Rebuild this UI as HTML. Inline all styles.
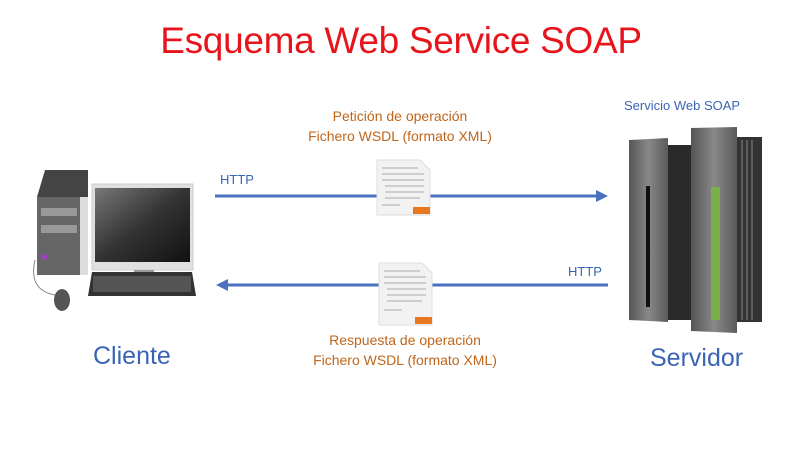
<!DOCTYPE html>
<html><head><meta charset="utf-8"><style>
body{margin:0;width:800px;height:450px;background:#fff;position:relative;overflow:hidden;font-family:"Liberation Sans",sans-serif}
.t{position:absolute;white-space:nowrap}
</style></head><body>
<div class="t" style="left:0;width:802px;text-align:center;top:20px;font-size:37px;color:#e8141b;letter-spacing:-0.3px">Esquema Web Service SOAP</div>
<div class="t" style="left:300px;width:200px;text-align:center;top:106px;font-size:14px;line-height:20px;color:#c0651a">Petición de operación<br>Fichero WSDL (formato XML)</div>
<div class="t" style="left:300px;width:210px;text-align:center;top:330px;font-size:14px;line-height:20px;color:#c0651a">Respuesta de operación<br>Fichero WSDL (formato XML)</div>
<div class="t" style="left:220px;top:172px;font-size:13px;color:#3c64b4">HTTP</div>
<div class="t" style="left:568px;top:264px;font-size:13px;color:#3c64b4">HTTP</div>
<div class="t" style="left:624px;top:98px;font-size:13px;color:#3c64b4">Servicio Web SOAP</div>
<div class="t" style="left:93px;top:342px;font-size:25px;color:#3c64b4">Cliente</div>
<div class="t" style="left:650px;top:344px;font-size:25px;color:#3c64b4">Servidor</div>
<svg width="800" height="450" style="position:absolute;left:0;top:0">
<defs><linearGradient id="scr" x1="0" y1="0" x2="1" y2="1"><stop offset="0" stop-color="#777"/><stop offset="0.5" stop-color="#333"/><stop offset="1" stop-color="#111"/></linearGradient>
<linearGradient id="pan" x1="0" x2="1"><stop offset="0" stop-color="#555"/><stop offset="0.5" stop-color="#888"/><stop offset="1" stop-color="#5a5a5a"/></linearGradient></defs>
<line x1="215" y1="196" x2="598" y2="196" stroke="#4a72c0" stroke-width="3"/>
<polygon points="608,196 596,190 596,202" fill="#4a72c0"/>
<line x1="228" y1="285" x2="608" y2="285" stroke="#4a72c0" stroke-width="3"/>
<polygon points="216,285 228,279 228,291" fill="#4a72c0"/>
<g>
<polygon points="377,160 420,160 430,170 430,215 377,215" fill="#f2f2f2" stroke="#ddd"/>
<g stroke="#aaa" stroke-width="1"><line x1="382" y1="168" x2="418" y2="168"/><line x1="382" y1="174" x2="424" y2="174"/><line x1="382" y1="180" x2="424" y2="180"/><line x1="385" y1="186" x2="424" y2="186"/><line x1="385" y1="192" x2="424" y2="192"/><line x1="385" y1="198" x2="420" y2="198"/><line x1="382" y1="205" x2="400" y2="205"/></g>
<rect x="413" y="207" width="17" height="7" fill="#e87722"/>
<polygon points="379,263 422,263 432,273 432,325 379,325" fill="#f2f2f2" stroke="#ddd"/>
<g stroke="#aaa" stroke-width="1"><line x1="384" y1="271" x2="420" y2="271"/><line x1="384" y1="277" x2="426" y2="277"/><line x1="384" y1="283" x2="426" y2="283"/><line x1="387" y1="289" x2="426" y2="289"/><line x1="387" y1="295" x2="426" y2="295"/><line x1="387" y1="301" x2="422" y2="301"/><line x1="384" y1="310" x2="402" y2="310"/></g>
<rect x="415" y="317" width="17" height="7" fill="#e87722"/>
</g>
<!-- client -->
<polygon points="45,170 88,170 88,197 37,197" fill="#444"/>
<rect x="37" y="197" width="51" height="78" fill="#666"/>
<rect x="80" y="197" width="8" height="78" fill="#ddd"/>
<rect x="41" y="208" width="36" height="8" fill="#999"/>
<rect x="41" y="225" width="36" height="8" fill="#999"/>
<circle cx="44" cy="257" r="3" fill="#a040c0"/>
<rect x="92" y="184" width="101" height="86" fill="#e0e0e0" stroke="#ccc"/>
<rect x="95" y="188" width="95" height="74" fill="url(#scr)"/>
<rect x="134" y="270" width="20" height="6" fill="#999"/>
<polygon points="92,272 192,272 196,296 88,296" fill="#333"/>
<rect x="93" y="276" width="98" height="16" fill="#555"/>
<path d="M35 260 Q28 290 55 295" stroke="#888" fill="none"/>
<ellipse cx="62" cy="300" rx="8" ry="11" fill="#555"/>
<!-- server -->
<rect x="737" y="137" width="25" height="185" fill="#333"/>
<g stroke="#888" stroke-width="1"><line x1="742" y1="140" x2="742" y2="320"/><line x1="747" y1="140" x2="747" y2="320"/><line x1="752" y1="140" x2="752" y2="320"/></g>
<rect x="668" y="145" width="24" height="175" fill="#2a2a2a"/>
<polygon points="629,140 668,138 668,322 629,320" fill="url(#pan)"/>
<rect x="646" y="186" width="4" height="121" fill="#111"/>
<polygon points="691,128 737,127 737,333 691,331" fill="url(#pan)"/>
<rect x="711" y="187" width="9" height="133" fill="#7ab04a"/>
</svg>
</body></html>
